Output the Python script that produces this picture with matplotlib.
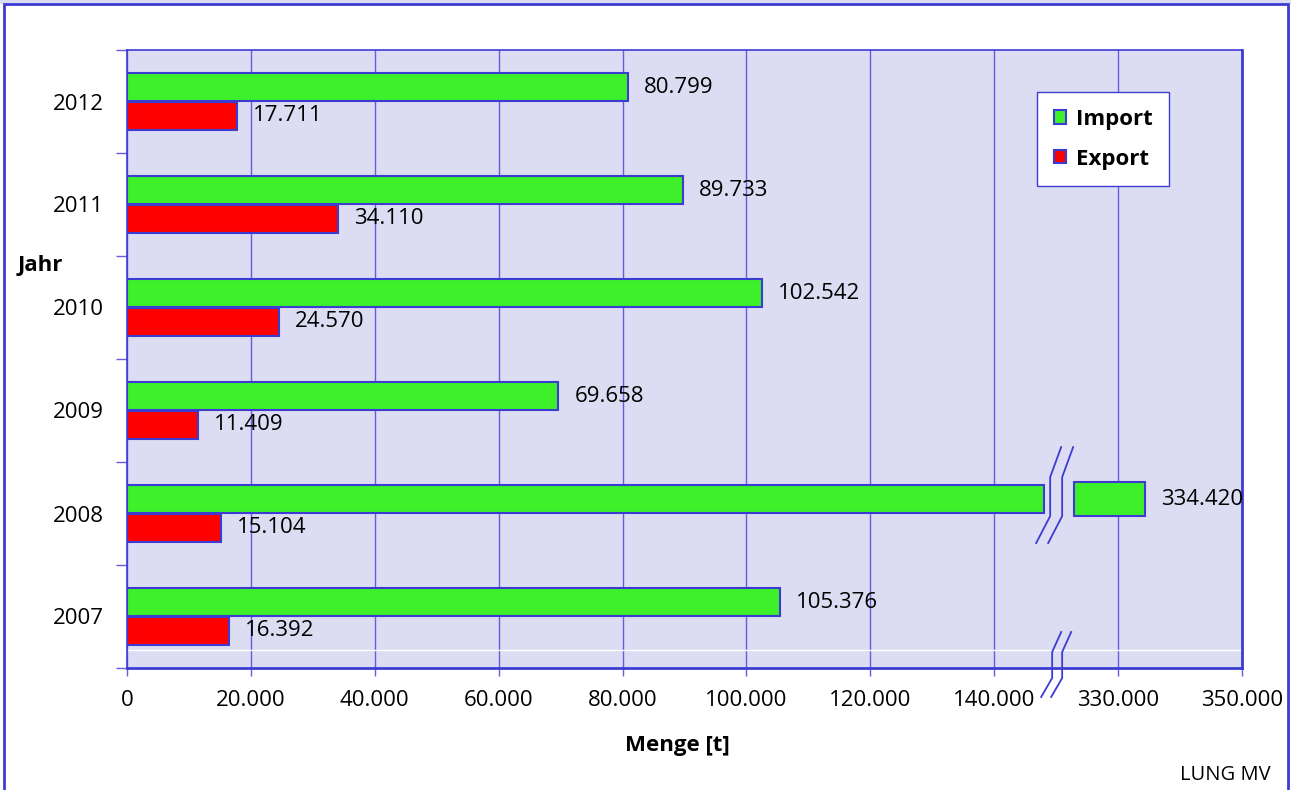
import numpy as np
import matplotlib
matplotlib.use("Agg")
import matplotlib.pyplot as plt
from matplotlib.patches import Rectangle, Patch

plt.rcParams["font.family"] = ["Open Sans", "DejaVu Sans"]

# ----------------------- data -----------------------
years = ["2007", "2008", "2009", "2010", "2011", "2012"]
imports = [105376, 334420, 69658, 102542, 89733, 80799]
exports = [16392, 15104, 11409, 24570, 34110, 17711]
x_ticks = [0, 20000, 40000, 60000, 80000, 100000, 120000, 140000, 160000, 180000]

# ----------------------- style -----------------------
GREEN = "#3ef02a"
RED = "#ff0000"
EDGE = "#3c3cd2"
GRID = "#6a5adf"
BG = "#dcdcf2"
FS = 16

# broken axis: values above the break are shifted left by SHIFT
SHIFT = 170000
BREAK_X = 150000
GAP_LO, GAP_HI = 148000, 152900

W, H = 1291, 790
fig = plt.figure(figsize=(W / 100, H / 100), dpi=100)
ax = fig.add_axes([127 / W, 1 - 668 / H, (1242 - 127) / W, (668 - 50) / H])
ax.set_facecolor(BG)

# px -> data scale helpers (for decorations only)
XS = 20000 / 123.9
YS = 1 / 103.0

y = np.arange(len(years))
bh = 0.27
yi = y + 0.14
ye = y - 0.14


def show(v):
    return v if v < BREAK_X else v - SHIFT


def fmt(v):
    return f"{v:,}".replace(",", ".")


for yy, v in zip(yi, imports):
    if v < BREAK_X:
        ax.barh(yy, v, height=bh, color=GREEN, edgecolor=EDGE, linewidth=1.5, zorder=3)
    else:
        ax.barh(yy, GAP_LO, height=bh, color=GREEN, edgecolor=EDGE, linewidth=1.5, zorder=3)
        ax.barh(yy, show(v) - GAP_HI, left=GAP_HI, height=bh * 1.22, color=GREEN,
                edgecolor=EDGE, linewidth=1.5, zorder=3)
    ax.text(show(v) + 16 * XS, yy, fmt(v), va="center", ha="left", fontsize=FS, zorder=5)

for yy, v in zip(ye, exports):
    ax.barh(yy, v, height=bh, color=RED, edgecolor=EDGE, linewidth=1.5, zorder=3)
    ax.text(show(v) + 16 * XS, yy, fmt(v), va="center", ha="left", fontsize=FS, zorder=5)

ax.set_xlim(0, 180000)
ax.set_ylim(-0.5, len(years) - 0.5)

ax.set_xticks(x_ticks)
ax.set_xticklabels([fmt(t) if t <= 140000 else fmt(t + SHIFT) for t in x_ticks])
ax.set_yticks(y)
ax.set_yticklabels(years)
ax.set_yticks(np.arange(len(years) + 1) - 0.5, minor=True)
ax.tick_params(axis="x", length=6, width=1, color=GRID, pad=10, labelsize=FS)
ax.tick_params(axis="y", which="major", length=0, pad=16.5, labelsize=FS)
ax.tick_params(axis="y", which="minor", length=8, width=1, color=GRID)

ax.grid(axis="x", color=GRID, linewidth=1, zorder=1)
ax.set_axisbelow(True)
for s in ax.spines.values():
    s.set_color(EDGE)
    s.set_linewidth(2)
ax.spines["left"].set_linewidth(1.2)
ax.spines["top"].set_linewidth(1.2)

# odd white line near the bottom of the plot area
ax.axhline(-0.5 + 18 * YS, color="white", linewidth=1, zorder=2)

# break marks on the 2008 import bar
yc = yi[1]
shape = [(-14, 44), (0, 17), (0, -22), (11, -52)]
for dx in (-6, 6):
    xs = [BREAK_X + (dx + px) * XS for px, py in shape]
    ys = [yc - py * YS for px, py in shape]
    ax.plot(xs, ys, color=EDGE, linewidth=1.3, zorder=4, clip_on=False)

# break marks on the x axis
shape_ax = [(-11, 29), (0, 10), (0, -16), (9, -36)]
for dx in (-4, 6):
    xs = [BREAK_X + (dx + px) * XS for px, py in shape_ax]
    ys = [-0.5 - py * YS for px, py in shape_ax]
    ax.plot(xs, ys, color=EDGE, linewidth=1.3, zorder=6, clip_on=False)

leg = ax.legend(handles=[Patch(facecolor=GREEN, edgecolor=EDGE, linewidth=1.5, label="Import"),
                         Patch(facecolor=RED, edgecolor=EDGE, linewidth=1.5, label="Export")],
                loc="upper left", bbox_to_anchor=(1037 / W, 1 - 92 / H),
                bbox_transform=fig.transFigure, borderaxespad=0, frameon=True, fancybox=False,
                prop={"weight": "bold", "size": FS}, handlelength=0.55, handleheight=0.55,
                handletextpad=0.45, labelspacing=0.85, borderpad=0.75, framealpha=1)
leg.get_frame().set_edgecolor(EDGE)
leg.get_frame().set_linewidth(1)

fig.text(677 / W, 1 - 745 / H, "Menge [t]", ha="center", va="center", fontsize=FS, fontweight="bold")
fig.text(18 / W, 1 - 265 / H, "Jahr", ha="left", va="center", fontsize=FS, fontweight="bold")
fig.text(1271 / W, 1 - 775 / H, "LUNG MV", ha="right", va="center", fontsize=14.5)

# outer frame
fig.patches.append(Rectangle((0, 1 - 4 / H), 1, 4 / H, transform=fig.transFigure,
                             facecolor=BG, edgecolor="none"))
fig.patches.append(Rectangle((4 / W, -0.05), (1288 - 4) / W, 1.05 - 4 / H, transform=fig.transFigure,
                             facecolor="none", edgecolor=EDGE, linewidth=2))

fig.savefig("out.png", dpi=100)
